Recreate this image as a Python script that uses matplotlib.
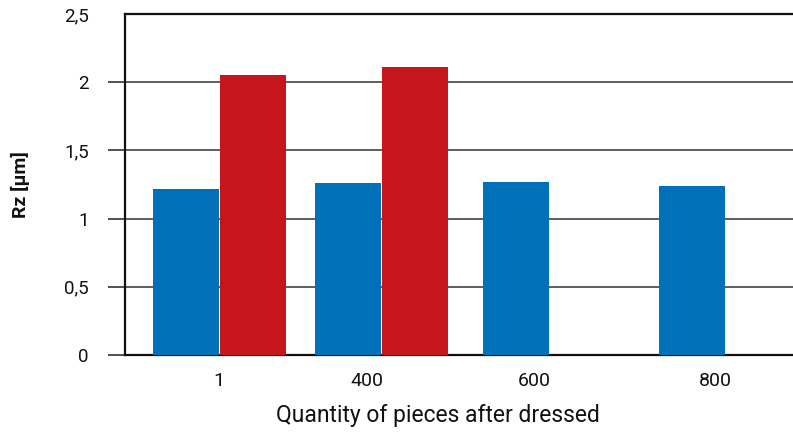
import matplotlib
matplotlib.use("Agg")
import matplotlib.pyplot as plt

# Surface roughness after dressing
categories = ["1", "400", "600", "800"]
series_blue = [1.22, 1.26, 1.27, 1.24]
series_red = [2.05, 2.11, None, None]
y_ticks = [0, 0.5, 1, 1.5, 2, 2.5]
y_tick_labels = ["0", "0,5", "1", "1,5", "2", "2,5"]

BLUE = "#0070B8"
RED = "#C4161C"

plt.rcParams["font.family"] = ["Roboto", "DejaVu Sans"]

fig = plt.figure(figsize=(7.93, 4.32), dpi=100)
ax = fig.add_axes([125 / 793, 1 - 355 / 432, 1 - 125 / 793, (355 - 14) / 432])

# layout: horizontal placement of each group (axis in pixel-like units)
group_left = [153, 315, 483, 659]
label_pos = [219, 367, 534, 715]
bar_w = 66
gap = 1

for i, cat in enumerate(categories):
    ax.bar(group_left[i], series_blue[i], width=bar_w, align="edge",
           color=BLUE, linewidth=0, zorder=3)
    if series_red[i] is not None:
        ax.bar(group_left[i] + bar_w + gap, series_red[i], width=bar_w,
               align="edge", color=RED, linewidth=0, zorder=3)

ax.set_xlim(125, 793)
ax.set_ylim(0, 2.5)

ax.set_xticks(label_pos)
ax.set_xticklabels(categories, fontsize=14, color="#111111")
ax.tick_params(axis="x", length=0, pad=12)

ax.set_yticks(y_ticks)
ax.set_yticklabels(y_tick_labels, fontsize=13.5, color="#111111")
ax.tick_params(axis="y", length=12.2, width=1.1, color="#222222", pad=14,
               direction="out")
ax.yaxis.get_major_ticks()[-1].tick1line.set_visible(False)

ax.grid(axis="y", color="#333333", linewidth=1.1, zorder=1)
ax.set_axisbelow(True)

for side in ("top", "left", "bottom"):
    ax.spines[side].set_color("#111111")
    ax.spines[side].set_linewidth(1.6)
ax.spines["right"].set_visible(False)

ax.set_xlabel("Quantity of pieces after dressed", fontsize=16.5,
              color="#111111", labelpad=8)
ax.xaxis.set_label_coords((438 - 125) / 668, -0.145)
fig.text(20 / 793, 1 - 185 / 432, "Rz [μm]", rotation=90, fontsize=14,
         fontweight="bold", ha="center", va="center", color="#111111")

fig.savefig("out.png", dpi=100, facecolor="white")
